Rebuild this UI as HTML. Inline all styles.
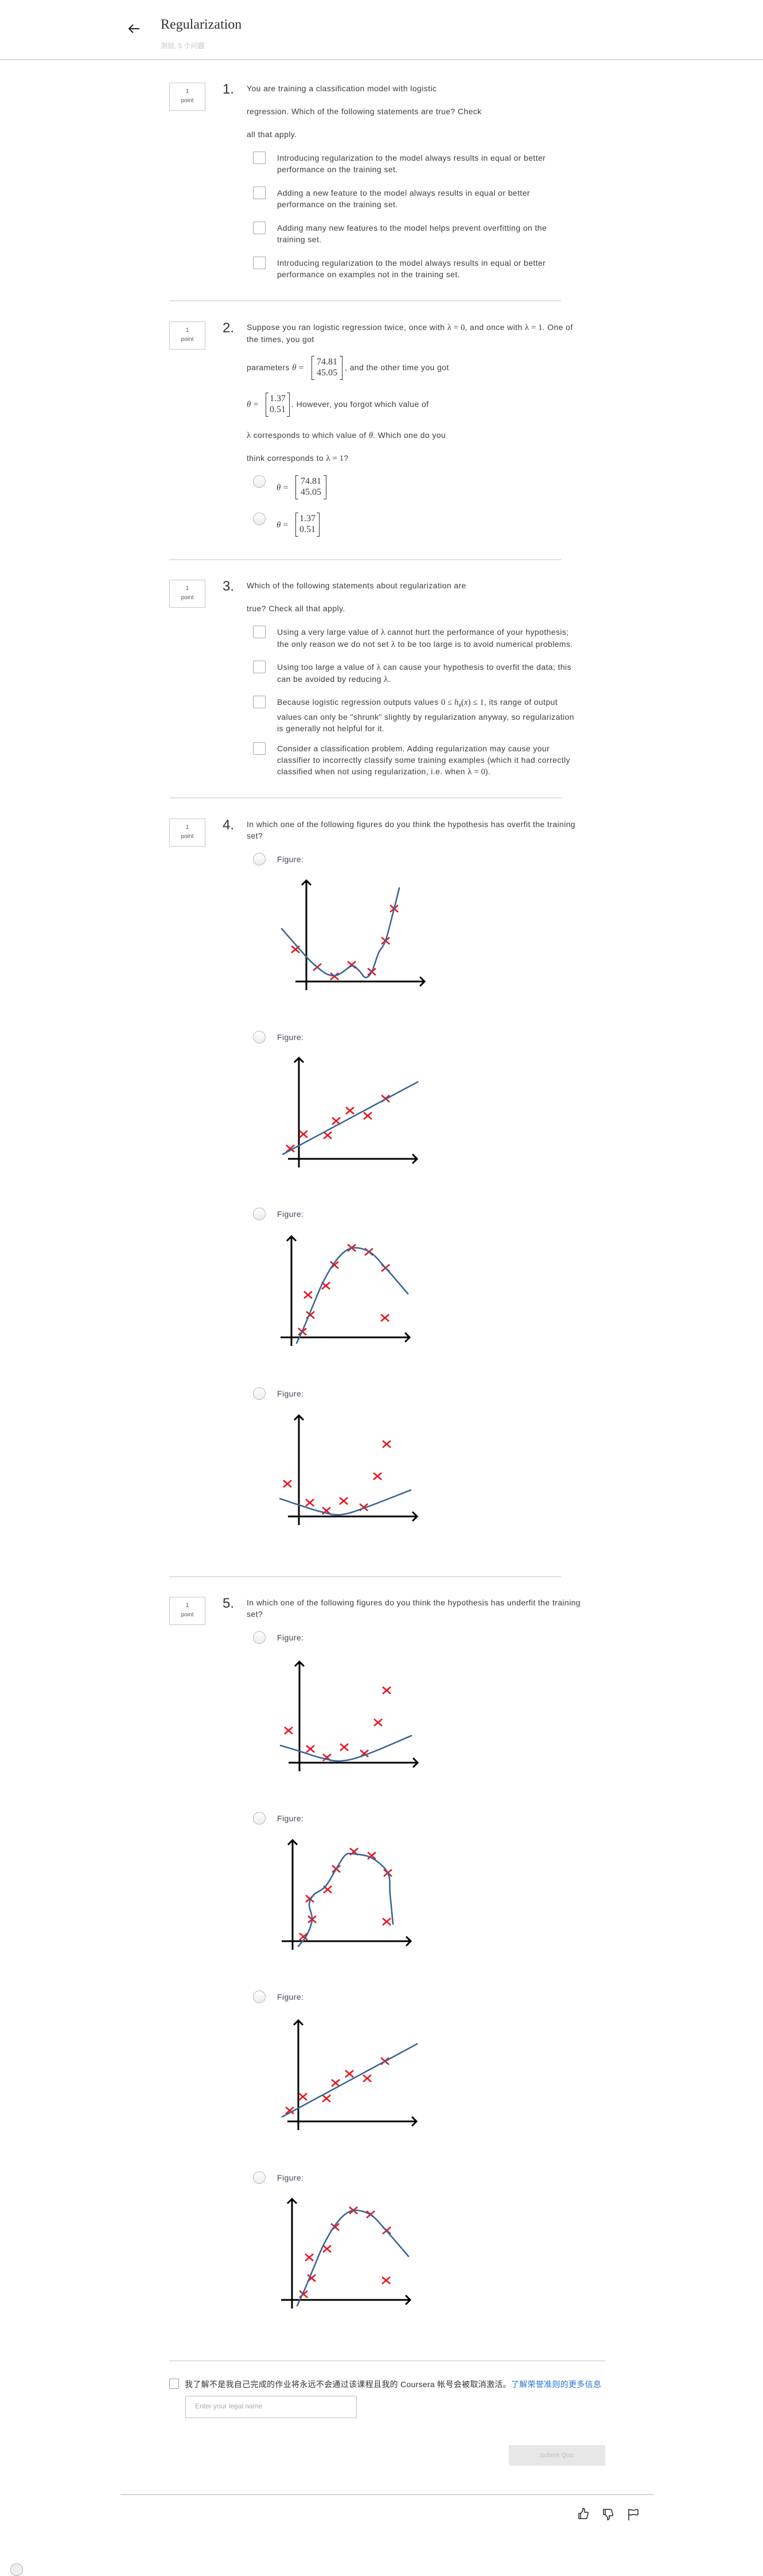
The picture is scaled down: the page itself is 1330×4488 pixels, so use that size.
<!DOCTYPE html>
<html><head><meta charset="utf-8"><title>Regularization</title>
<style>
html,body{margin:0;padding:0;background:#fff;}
body{width:1330px;height:4476px;position:relative;overflow:hidden;font-family:"Liberation Sans","Noto Sans CJK SC",sans-serif;color:#3a3a3a;font-size:13px;}
.a{position:absolute;white-space:nowrap;}
.t{position:absolute;white-space:nowrap;line-height:20px;font-size:14px;letter-spacing:0.4px;color:#3d3d3d;}
.box{position:absolute;left:295px;width:61px;height:47px;border:1px solid #c8c8c8;text-align:center;font-size:10px;color:#555;line-height:16px;}
.box span{display:block;margin-top:7px;}
.num{position:absolute;left:388px;font-size:24px;color:#333;line-height:30px;}
.cb{position:absolute;left:441px;width:20px;height:20px;border:1px solid #a8a8a8;border-radius:2px;background:#fff;}
.rd{position:absolute;left:441px;width:20px;height:20px;border:1px solid #b5b5b5;border-radius:50%;background:linear-gradient(#fff,#ececec);}
.sep{position:absolute;left:295px;width:683px;height:2px;background:#e0e0e0;}
.m{font-family:"Liberation Serif",serif;font-size:15px;letter-spacing:0;}
.mi{font-family:"Liberation Serif",serif;font-style:italic;font-size:15px;letter-spacing:0;}
.mat{position:absolute;font-family:"Liberation Serif",serif;font-size:16px;line-height:19px;text-align:center;padding:1px 3px;}
.brk{position:absolute;width:4px;height:100%;top:0;border-top:1.5px solid #333;border-bottom:1.5px solid #333;}
.brk.l{border-left:1.5px solid #333;}
.brk.r{border-right:1.5px solid #333;}
.fig{position:absolute;left:483px;font-size:14px;letter-spacing:0.4px;color:#4a4055;line-height:20px;}
</style></head>
<body>
<svg class="a" style="left:222px;top:40px" width="24" height="20" viewBox="0 0 24 20"><path d="M21 10H3M10 3L3 10L10 17" stroke="#222" stroke-width="2" fill="none"/></svg>
<div class="a" style="left:280px;top:30px;font-family:'Liberation Serif',serif;font-size:24px;color:#333;">Regularization</div>
<div class="a" style="left:280px;top:71px;font-size:12px;color:#c4c4c4;">测验, 5 个问题</div>
<div class="a" style="left:0;top:103px;width:1330px;height:2px;background:#dcdcdc;"></div>

<div class="box" style="top:144px"><span>1</span>point</div>
<div class="num" style="top:141px">1.</div>
<div class="t" style="left:430px;top:144px">You are training a classification model with logistic</div>
<div class="t" style="left:430px;top:184px">regression. Which of the following statements are true? Check</div>
<div class="t" style="left:430px;top:224px">all that apply.</div>
<div class="cb" style="top:264px"></div>
<div class="t" style="left:483px;top:265px">Introducing regularization to the model always results in equal or better<br>performance on the training set.</div>
<div class="cb" style="top:325px"></div>
<div class="t" style="left:483px;top:326px">Adding a new feature to the model always results in equal or better<br>performance on the training set.</div>
<div class="cb" style="top:386px"></div>
<div class="t" style="left:483px;top:387px">Adding many new features to the model helps prevent overfitting on the<br>training set.</div>
<div class="cb" style="top:447px"></div>
<div class="t" style="left:483px;top:448px">Introducing regularization to the model always results in equal or better<br>performance on examples not in the training set.</div>
<div class="sep" style="top:523px"></div>

<div class="box" style="top:560px"><span>1</span>point</div>
<div class="num" style="top:557px">2.</div>
<div class="t" style="left:430px;top:560px">Suppose you ran logistic regression twice, once with <span class="m">λ = 0</span>, and once with <span class="m">λ = 1</span>. One of<br>the times, you got</div>
<div class="t" style="left:430px;top:630px">parameters <span class="mi">θ</span> <span class="m">=</span></div>
<div class="mat" style="left:543px;top:620px;width:48px"><i class="brk l" style="left:0"></i><i class="brk r" style="right:0"></i>74.81<br>45.05</div>
<div class="t" style="left:601px;top:630px">, and the other time you got</div>
<div class="t" style="left:430px;top:694px"><span class="mi">θ</span> <span class="m">=</span></div>
<div class="mat" style="left:463px;top:684px;width:36px"><i class="brk l" style="left:0"></i><i class="brk r" style="right:0"></i>1.37<br>0.51</div>
<div class="t" style="left:508px;top:694px">. However, you forgot which value of</div>
<div class="t" style="left:430px;top:748px"><span class="m">λ</span> corresponds to which value of <span class="mi">θ</span>. Which one do you</div>
<div class="t" style="left:430px;top:788px">think corresponds to <span class="m">λ = 1</span>?</div>
<div class="rd" style="left:441px;top:828px"></div>
<div class="t" style="left:482px;top:839px"><span class="mi">θ</span> <span class="m">=</span></div>
<div class="mat" style="left:515px;top:828px;width:48px"><i class="brk l" style="left:0"></i><i class="brk r" style="right:0"></i>74.81<br>45.05</div>
<div class="rd" style="left:441px;top:893px"></div>
<div class="t" style="left:482px;top:904px"><span class="mi">θ</span> <span class="m">=</span></div>
<div class="mat" style="left:515px;top:893px;width:36px"><i class="brk l" style="left:0"></i><i class="brk r" style="right:0"></i>1.37<br>0.51</div>
<div class="sep" style="top:974px"></div>

<div class="box" style="top:1010px"><span>1</span>point</div>
<div class="num" style="top:1007px">3.</div>
<div class="t" style="left:430px;top:1010px">Which of the following statements about regularization are</div>
<div class="t" style="left:430px;top:1050px">true? Check all that apply.</div>
<div class="cb" style="top:1090px"></div>
<div class="t" style="left:483px;top:1091px">Using a very large value of <span class="m">λ</span> cannot hurt the performance of your hypothesis;<br>the only reason we do not set <span class="m">λ</span> to be too large is to avoid numerical problems.</div>
<div class="cb" style="top:1151px"></div>
<div class="t" style="left:483px;top:1152px">Using too large a value of <span class="m">λ</span> can cause your hypothesis to overfit the data; this<br>can be avoided by reducing <span class="m">λ</span>.</div>
<div class="cb" style="top:1212px"></div>
<div class="t" style="left:483px;top:1213px">Because logistic regression outputs values <span class="m">0 ≤ <i>h<sub style="font-size:9px">θ</sub></i>(<i>x</i>) ≤ 1</span>, its range of output<br>values can only be "shrunk" slightly by regularization anyway, so regularization<br>is generally not helpful for it.</div>
<div class="cb" style="top:1293px"></div>
<div class="t" style="left:483px;top:1294px">Consider a classification problem. Adding regularization may cause your<br>classifier to incorrectly classify some training examples (which it had correctly<br>classified when not using regularization, i.e. when <span class="m">λ = 0</span>).</div>
<div class="sep" style="top:1389px"></div>

<div class="box" style="top:1426px"><span>1</span>point</div>
<div class="num" style="top:1423px">4.</div>
<div class="t" style="left:430px;top:1426px">In which one of the following figures do you think the hypothesis has overfit the training<br>set?</div>
<div class="rd" style="top:1486px"></div>
<div class="fig" style="top:1487px">Figure:</div>
<div class="rd" style="top:1796px"></div>
<div class="fig" style="top:1797px">Figure:</div>
<div class="rd" style="top:2104px"></div>
<div class="fig" style="top:2105px">Figure:</div>
<div class="rd" style="top:2417px"></div>
<div class="fig" style="top:2418px">Figure:</div>
<div class="sep" style="top:2746px"></div>

<div class="box" style="top:2782px"><span>1</span>point</div>
<div class="num" style="top:2779px">5.</div>
<div class="t" style="left:430px;top:2782px">In which one of the following figures do you think the hypothesis has underfit the training<br>set?</div>
<div class="rd" style="top:2842px"></div>
<div class="fig" style="top:2843px">Figure:</div>
<div class="rd" style="top:3157px"></div>
<div class="fig" style="top:3158px">Figure:</div>
<div class="rd" style="top:3468px"></div>
<div class="fig" style="top:3469px">Figure:</div>
<div class="rd" style="top:3783px"></div>
<div class="fig" style="top:3784px">Figure:</div>
<div class="sep" style="top:4112px;width:760px"></div>

<div class="a" style="left:295px;top:4144px;width:15px;height:16px;border:1px solid #999;border-radius:2px;"></div>
<div class="a" style="left:322px;top:4144px;font-size:14px;color:#333;letter-spacing:0.3px;">我了解不是我自己完成的作业将永远不会通过该课程且我的 Coursera 帐号会被取消激活。<span style="color:#2a73d2;">了解荣誉准则的更多信息</span></div>
<div class="a" style="left:323px;top:4174px;width:297px;height:37px;border:1px solid #bdbdbd;"></div>
<div class="a" style="left:340px;top:4185px;font-size:12px;color:#aaa;">Enter your legal name</div>
<div class="a" style="left:887px;top:4260px;width:168px;height:36px;background:#e7e7e7;color:#bdbdbd;font-size:11px;text-align:center;line-height:36px;">Submit Quiz</div>
<div class="a" style="left:210px;top:4345px;width:930px;height:2px;background:#d6d6d6;"></div>
<svg class="a" style="left:1008px;top:4368px" width="18" height="22" viewBox="0 0 18 22"><path d="M1 11h3v9H1zM4 11l4-5V2c2 0 3 1 3 3v4h5c1 0 1.5 1 1 2l-2 8c-.3 1-1 1-2 1H4" fill="none" stroke="#222" stroke-width="1.5"/></svg>
<svg class="a" style="left:1051px;top:4370px" width="18" height="22" viewBox="0 0 18 22"><path d="M1 2h3v9H1zM4 11l4 5v4c2 0 3-1 3-3v-4h5c1 0 1.5-1 1-2l-2-8c-.3-1-1-1-2-1H4" fill="none" stroke="#222" stroke-width="1.5"/></svg>
<svg class="a" style="left:1094px;top:4370px" width="20" height="22" viewBox="0 0 20 22"><path d="M2 1v20M2 3c4-2 7 2 11 0s5 0 5 0v8c-3 2-6-1-9 0s-4 1-7 0" fill="none" stroke="#222" stroke-width="1.5"/></svg>
<div class="a" style="left:18px;top:4466px;width:20px;height:20px;border-radius:50%;border:1px solid #aaa;background:#eee;"></div>

<svg id="charts" class="a" style="left:0;top:0;pointer-events:none" width="1330" height="4476"></svg>

<script>
const q4f1PtsX = [-0.95, 0.95, 2.45, 3.95, 5.7, 6.9, 7.65];
const q4f1PtsY = [2.8, 1.25, 0.45, 1.45, 0.85, 3.55, 6.35];
const q4f1CurveX = [-2.15, 0, 0.95, 1.9, 2.8, 3.95, 4.55, 5.15, 5.7, 6.3, 6.9, 7.65, 8.1];
const q4f1CurveY = [4.6, 2.15, 1.25, 0.6, 0.6, 1.35, 1.0, 0.35, 0.85, 2.5, 3.55, 6.35, 8.15];
const q4f2PtsX = [-0.75, 0.4, 2.5, 3.25, 4.45, 6.0, 7.55];
const q4f2PtsY = [0.9, 2.15, 2.05, 3.3, 4.2, 3.75, 5.25];
const q4f2CurveX = [-1.4, 10.35];
const q4f2CurveY = [0.4, 6.7];
const q4f3PtsX = [0.95, 1.65, 1.45, 3.0, 3.75, 5.25, 6.75, 8.2, 8.15];
const q4f3PtsY = [0.5, 1.95, 3.7, 4.5, 6.3, 7.8, 7.45, 6.05, 1.7];
const q4f3CurveX = [0.45, 1.1, 1.95, 2.75, 3.75, 4.75, 5.7, 6.95, 8.25, 10.15];
const q4f3CurveY = [-0.5, 0.9, 2.95, 4.8, 6.5, 7.55, 7.8, 7.35, 6.0, 3.8];
const q4f4PtsX = [-1.0, 0.95, 2.4, 3.9, 5.65, 6.85, 7.65];
const q4f4PtsY = [2.85, 1.2, 0.5, 1.35, 0.8, 3.5, 6.3];
const q4f4CurveX = [-1.65, 0, 1.95, 3.6, 5.6, 9.75];
const q4f4CurveY = [1.55, 1.0, 0.4, 0.15, 0.7, 2.3];
const q5f1PtsX = [-0.95, 0.95, 2.4, 3.9, 5.65, 6.85, 7.6];
const q5f1PtsY = [2.8, 1.2, 0.45, 1.35, 0.8, 3.5, 6.3];
const q5f1CurveX = [-1.65, 0, 1.95, 3.65, 5.8, 9.75];
const q5f1CurveY = [1.5, 1.0, 0.4, 0.15, 0.7, 2.35];
const q5f2PtsX = [0.95, 1.7, 1.5, 3.05, 3.8, 5.35, 6.9, 8.3, 8.2];
const q5f2PtsY = [0.4, 1.9, 3.7, 4.5, 6.3, 7.8, 7.45, 5.95, 1.7];
const q5f2CurveX = [0.5, 1.25, 1.7, 1.45, 1.85, 2.85, 3.8, 4.6, 5.35, 6.9, 8.3, 8.5, 8.75];
const q5f2CurveY = [-0.45, 0.55, 1.9, 3.2, 4.05, 4.75, 6.3, 7.5, 7.6, 7.25, 5.95, 4.05, 1.5];
const q5f3PtsX = [-0.75, 0.4, 2.45, 3.25, 4.45, 6.0, 7.55];
const q5f3PtsY = [0.95, 2.15, 2.0, 3.35, 4.15, 3.75, 5.25];
const q5f3CurveX = [-1.4, 10.35];
const q5f3CurveY = [0.4, 6.75];
const q5f4PtsX = [1.0, 1.7, 1.5, 3.05, 3.75, 5.35, 6.85, 8.25, 8.2];
const q5f4PtsY = [0.5, 1.9, 3.7, 4.45, 6.35, 7.8, 7.45, 6.05, 1.7];
const q5f4CurveX = [0.45, 1.1, 1.95, 2.75, 3.75, 4.75, 5.7, 6.95, 8.25, 10.15];
const q5f4CurveY = [-0.5, 0.9, 2.95, 4.8, 6.5, 7.55, 7.8, 7.35, 6.0, 3.8];

const UNIT = 20;
const NS = 'http://www.w3.org/2000/svg';
const svg = document.getElementById('charts');

function mk(tag, attrs) {
  const e = document.createElementNS(NS, tag);
  for (const k in attrs) e.setAttribute(k, attrs[k]);
  return e;
}
function smoothPath(pts) {
  if (pts.length === 2) return 'M' + pts[0][0] + ' ' + pts[0][1] + 'L' + pts[1][0] + ' ' + pts[1][1];
  let d = 'M' + pts[0][0].toFixed(1) + ' ' + pts[0][1].toFixed(1);
  for (let i = 0; i < pts.length - 1; i++) {
    const p0 = pts[i - 1] || pts[i], p1 = pts[i], p2 = pts[i + 1], p3 = pts[i + 2] || p2;
    const c1 = [p1[0] + (p2[0] - p0[0]) / 6, p1[1] + (p2[1] - p0[1]) / 6];
    const c2 = [p2[0] - (p3[0] - p1[0]) / 6, p2[1] - (p3[1] - p1[1]) / 6];
    d += 'C' + c1[0].toFixed(1) + ' ' + c1[1].toFixed(1) + ' ' + c2[0].toFixed(1) + ' ' + c2[1].toFixed(1) + ' ' + p2[0].toFixed(1) + ' ' + p2[1].toFixed(1);
  }
  return d;
}
function drawFigure(name, ox, oy, ptsX, ptsY, curveX, curveY) {
  const sx = v => ox + v * UNIT;
  const sy = v => oy - v * UNIT;
  const g = mk('g', {});
  
  
  svg.appendChild(g);
  const ax = mk('path', {d: 'M' + (ox - 19) + ' ' + oy + 'H' + (ox + 206) + 'M' + (ox + 198) + ' ' + (oy - 8) + 'L' + (ox + 206) + ' ' + oy + 'L' + (ox + 198) + ' ' + (oy + 8), stroke: '#000', 'stroke-width': 3, fill: 'none'});
  
  
  g.appendChild(ax);
  const ay = mk('path', {d: 'M' + ox + ' ' + (oy + 15) + 'V' + (oy - 176) + 'M' + (ox - 8) + ' ' + (oy - 168) + 'L' + ox + ' ' + (oy - 176) + 'L' + (ox + 8) + ' ' + (oy - 168), stroke: '#000', 'stroke-width': 3, fill: 'none'});
  
  
  g.appendChild(ay);
  for (let i = 0; i < ptsX.length; i++) {
    const x = sx(ptsX[i]), y = sy(ptsY[i]);
    const m = mk('path', {d: 'M' + (x - 7) + ' ' + (y - 6) + 'L' + (x + 7) + ' ' + (y + 6) + 'M' + (x + 7) + ' ' + (y - 6) + 'L' + (x - 7) + ' ' + (y + 6), stroke: '#e8141b', 'stroke-width': 2.6, fill: 'none'});
    
    
    g.appendChild(m);
  }
  const cp = curveX.map((v, i) => [sx(v), sy(curveY[i])]);
  const c = mk('path', {d: smoothPath(cp), stroke: '#3b6597', 'stroke-width': 2.6, fill: 'none', 'stroke-linecap': 'round'});
  
  
  g.appendChild(c);
}
drawFigure('q4-figure-1', 534, 1710, q4f1PtsX, q4f1PtsY, q4f1CurveX, q4f1CurveY);
drawFigure('q4-figure-2', 521, 2019, q4f2PtsX, q4f2PtsY, q4f2CurveX, q4f2CurveY);
drawFigure('q4-figure-3', 508, 2330, q4f3PtsX, q4f3PtsY, q4f3CurveX, q4f3CurveY);
drawFigure('q4-figure-4', 521, 2642, q4f4PtsX, q4f4PtsY, q4f4CurveX, q4f4CurveY);
drawFigure('q5-figure-1', 522, 3071, q5f1PtsX, q5f1PtsY, q5f1CurveX, q5f1CurveY);
drawFigure('q5-figure-2', 510, 3382, q5f2PtsX, q5f2PtsY, q5f2CurveX, q5f2CurveY);
drawFigure('q5-figure-3', 520, 3696, q5f3PtsX, q5f3PtsY, q5f3CurveX, q5f3CurveY);
drawFigure('q5-figure-4', 509, 4007, q5f4PtsX, q5f4PtsY, q5f4CurveX, q5f4CurveY);
</script>
</body></html>
